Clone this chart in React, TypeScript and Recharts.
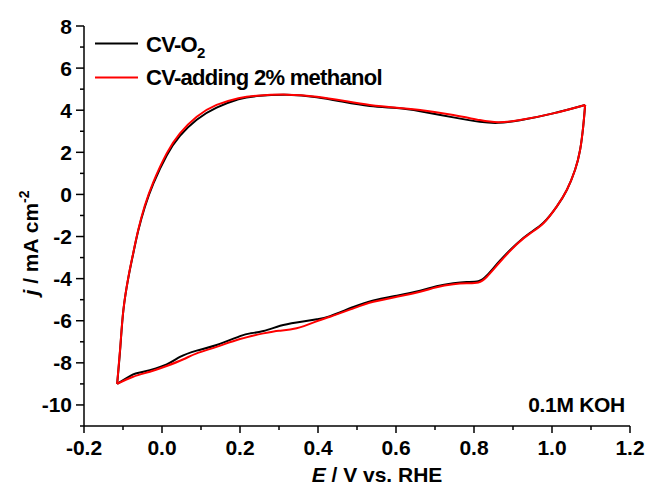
import { LineChart, Line, XAxis, YAxis } from "recharts";

// potential (V vs. RHE) / current density (mA cm-2); each loop is split into the
// anodic sweep (-0.115 V -> 1.085 V) and the cathodic sweep back
const o2AnodicE = [
  -0.115, -0.107, -0.099, -0.086, -0.074, -0.061, -0.044, -0.022, 0.012, 0.046, 0.089, 0.14, 0.196, 0.243, 0.32,
  0.397, 0.465, 0.533, 0.602, 0.662, 0.747, 0.815, 0.862, 0.918, 1.003, 1.085,
];
const o2AnodicJ = [
  -9.0, -7.3, -5.5, -3.93, -2.83, -1.73, -0.6, 0.52, 1.85, 2.78, 3.55, 4.12, 4.52, 4.67, 4.73,
  4.62, 4.4, 4.2, 4.1, 3.95, 3.66, 3.45, 3.4, 3.52, 3.85, 4.25,
];
const o2CathodicE = [
  1.085, 1.08, 1.072, 1.059, 1.038, 1.012, 0.978, 0.944, 0.909, 0.867, 0.833, 0.811, 0.781, 0.747, 0.704, 0.662,
  0.602, 0.542, 0.491, 0.431, 0.397, 0.345, 0.303, 0.26, 0.226, 0.2, 0.14, 0.089, 0.046, 0.012, -0.048, -0.074,
  -0.115,
];
const o2CathodicJ = [
  4.25, 3.22, 2.11, 1.16, 0.21, -0.58, -1.35, -1.82, -2.35, -3.14, -3.85, -4.12, -4.16, -4.22, -4.36, -4.57,
  -4.81, -5.04, -5.35, -5.78, -5.93, -6.08, -6.24, -6.49, -6.6, -6.73, -7.15, -7.42, -7.72, -8.07, -8.42, -8.55,
  -9.0,
];

const meohAnodicE = [
  -0.115, -0.107, -0.099, -0.086, -0.074, -0.061, -0.044, -0.022, 0.012, 0.046, 0.089, 0.14, 0.196, 0.243, 0.32,
  0.397, 0.465, 0.533, 0.602, 0.662, 0.747, 0.815, 0.862, 0.918, 1.003, 1.085,
];
const meohAnodicJ = [
  -9.0, -7.25, -5.49, -3.91, -2.8, -1.69, -0.53, 0.6, 1.95, 2.9, 3.69, 4.25, 4.57, 4.69, 4.74,
  4.64, 4.45, 4.25, 4.12, 4.01, 3.77, 3.53, 3.43, 3.53, 3.85, 4.25,
];
const meohCathodicE = [
  1.085, 1.08, 1.072, 1.059, 1.038, 1.012, 0.978, 0.944, 0.909, 0.867, 0.833, 0.811, 0.781, 0.747, 0.704, 0.662,
  0.602, 0.542, 0.491, 0.431, 0.4, 0.345, 0.3, 0.26, 0.2, 0.14, 0.089, 0.055, 0.012, -0.031, -0.074, -0.115,
];
const meohCathodicJ = [
  4.25, 3.22, 2.11, 1.16, 0.21, -0.58, -1.37, -1.85, -2.38, -3.2, -3.91, -4.18, -4.22, -4.27, -4.41, -4.62,
  -4.86, -5.1, -5.41, -5.81, -6.0, -6.36, -6.47, -6.6, -6.87, -7.24, -7.55, -7.83, -8.15, -8.42, -8.66, -9.0,
];

const xTicks = [-0.2, -0.1, 0, 0.1, 0.2, 0.3, 0.4, 0.5, 0.6, 0.7, 0.8, 0.9, 1.0, 1.1, 1.2];
const yTicks = [-11, -10, -9, -8, -7, -6, -5, -4, -3, -2, -1, 0, 1, 2, 3, 4, 5, 6, 7, 8];

const toPoints = (es: number[], js: number[]) => es.map((E, i) => ({ E, j: js[i] }));

const sweeps = [
  { key: "o2-an", data: toPoints(o2AnodicE, o2AnodicJ), color: "#000" },
  { key: "o2-cat", data: toPoints(o2CathodicE, o2CathodicJ), color: "#000" },
  { key: "meoh-an", data: toPoints(meohAnodicE, meohAnodicJ), color: "#ff0000" },
  { key: "meoh-cat", data: toPoints(meohCathodicE, meohCathodicJ), color: "#ff0000" },
];

const FONT = "'Liberation Sans', Arial, sans-serif";
const MAJOR = 7;
const MINOR = 4;

const isMajorX = (v: number) => Math.abs(Math.round(v * 10)) % 2 === 0;
const isMajorY = (v: number) => Math.abs(Math.round(v)) % 2 === 0 && v > -11;

// tick renderers draw their own tick lines so minor ticks can be shorter
const BottomTick = ({ x, y, payload }: any) => {
  const major = isMajorX(payload.value);
  return (
    <g>
      <line x1={x} x2={x} y1={y} y2={y + (major ? MAJOR : MINOR)} stroke="#000" strokeWidth={1.5} />
      {major && (
        <text x={x} y={y + 29} textAnchor="middle" fontFamily={FONT} fontWeight="bold" fontSize={21} fill="#000">
          {payload.value.toFixed(1)}
        </text>
      )}
    </g>
  );
};

const TopTick = ({ x, y, payload }: any) => {
  const major = isMajorX(payload.value);
  return <line x1={x} x2={x} y1={y} y2={y - (major ? MAJOR : MINOR)} stroke="#000" strokeWidth={1.5} />;
};

const LeftTick = ({ x, y, payload }: any) => {
  const major = isMajorY(payload.value);
  return (
    <g>
      <line x1={x} x2={x - (major ? MAJOR + 1 : MINOR)} y1={y} y2={y} stroke="#000" strokeWidth={1.5} />
      {major && (
        <text x={x - 12} y={y + 7.5} textAnchor="end" fontFamily={FONT} fontWeight="bold" fontSize={21} fill="#000">
          {payload.value}
        </text>
      )}
    </g>
  );
};

const RightTick = ({ x, y, payload }: any) => {
  const major = isMajorY(payload.value);
  return <line x1={x} x2={x + (major ? MAJOR : MINOR)} y1={y} y2={y} stroke="#000" strokeWidth={1.5} />;
};

const axisLine = { stroke: "#000", strokeWidth: 1.5 };

export default function App() {
  return (
    <div style={{ position: "absolute", left: 0, top: 0, width: 646, height: 485, background: "#fff" }}>
      <LineChart width={646} height={485} margin={{ top: 26, right: 16, bottom: 0, left: 0 }}>
        <XAxis
          type="number"
          dataKey="E"
          domain={[-0.2, 1.2]}
          ticks={xTicks}
          interval={0}
          height={59}
          tickSize={0}
          tickMargin={0}
          tickLine={false}
          axisLine={axisLine}
          tick={<BottomTick />}
          allowDataOverflow
        />
        <XAxis
          xAxisId="top"
          orientation="top"
          type="number"
          domain={[-0.2, 1.2]}
          ticks={xTicks}
          interval={0}
          height={0}
          tickSize={0}
          tickMargin={0}
          tickLine={false}
          axisLine={axisLine}
          tick={<TopTick />}
          allowDataOverflow
        />
        <YAxis
          type="number"
          domain={[-11, 8]}
          ticks={yTicks}
          interval={0}
          width={84}
          tickSize={0}
          tickMargin={0}
          tickLine={false}
          axisLine={axisLine}
          tick={<LeftTick />}
          allowDataOverflow
        />
        <YAxis
          yAxisId="right"
          orientation="right"
          type="number"
          domain={[-11, 8]}
          ticks={yTicks}
          interval={0}
          width={0}
          tickSize={0}
          tickMargin={0}
          tickLine={false}
          axisLine={axisLine}
          tick={<RightTick />}
          allowDataOverflow
        />
        {sweeps.map((s) => (
          <Line
            key={s.key}
            data={s.data}
            dataKey="j"
            type="natural"
            stroke={s.color}
            strokeWidth={2}
            strokeLinejoin="round"
            dot={false}
            isAnimationActive={false}
          />
        ))}

        {/* legend */}
        <g fontFamily={FONT} fontWeight="bold" fill="#000">
          <line x1={95} x2={138} y1={43.5} y2={43.5} stroke="#000" strokeWidth={2} />
          <text x={146} y={52} fontSize={22} letterSpacing={-0.7}>
            CV-O<tspan fontSize={15} dy={6}>2</tspan>
          </text>
          <line x1={95} x2={138} y1={77.5} y2={77.5} stroke="#ff0000" strokeWidth={2} />
          <text x={146} y={85} fontSize={22} letterSpacing={-0.7}>
            CV-adding 2% methanol
          </text>
        </g>

        <text x={625} y={412} textAnchor="end" fontFamily={FONT} fontWeight="bold" fontSize={21} letterSpacing={-0.3}>
          0.1M KOH
        </text>

        {/* axis titles */}
        <text x={377} y={482} textAnchor="middle" fontFamily={FONT} fontWeight="bold" fontSize={21}>
          <tspan fontStyle="italic">E</tspan> / V vs. RHE
        </text>
        <text
          transform="translate(38 243) rotate(-90)"
          textAnchor="middle"
          fontFamily={FONT}
          fontWeight="bold"
          fontSize={21}
        >
          <tspan fontStyle="italic">j</tspan> / mA cm<tspan fontSize={14} dy={-9}>-2</tspan>
        </text>
      </LineChart>
    </div>
  );
}
